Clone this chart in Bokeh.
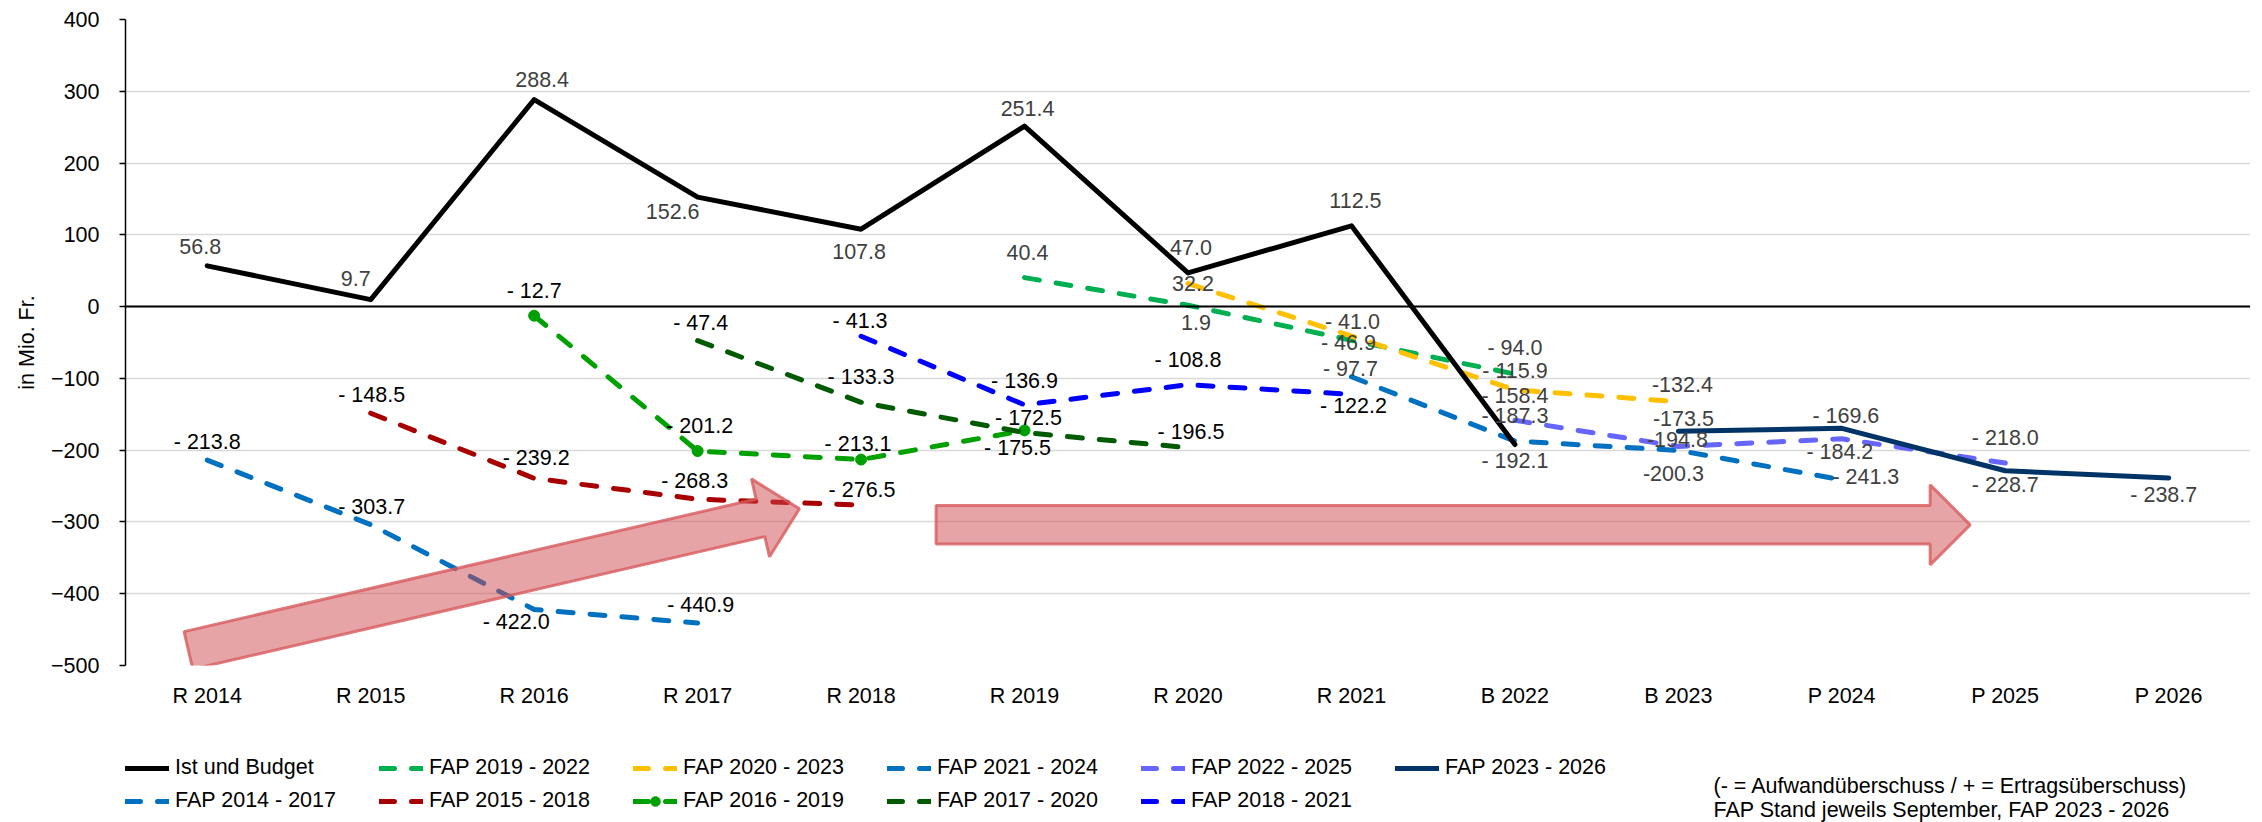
from math import hypot
from bokeh.plotting import figure
from bokeh.layouts import column
from bokeh.models import (FactorRange, Range1d, Span, Label, Legend, LegendItem,
                          FixedTicker, ColumnDataSource)
from bokeh.core.properties import value
from bokeh.embed import file_html
from bokeh.resources import INLINE

# ---------------- data ----------------
categories = ["R 2014", "R 2015", "R 2016", "R 2017", "R 2018", "R 2019", "R 2020",
              "R 2021", "B 2022", "B 2023", "P 2024", "P 2025", "P 2026"]

ist_budget = [56.8, 9.7, 288.4, 152.6, 107.8, 251.4, 47.0, 112.5, -192.1]   # from R 2014
fap_2014_2017 = [-213.8, -303.7, -422.0, -440.9]    # from R 2014
fap_2015_2018 = [-148.5, -239.2, -268.3, -276.5]    # from R 2015
fap_2016_2019 = [-12.7, -201.2, -213.1, -172.5]     # from R 2016
fap_2017_2020 = [-47.4, -133.3, -175.5, -196.5]     # from R 2017
fap_2018_2021 = [-41.3, -136.9, -108.8, -122.2]     # from R 2018
fap_2019_2022 = [40.4, 1.9, -46.9, -94.0]           # from R 2019
fap_2020_2023 = [32.2, -41.0, -115.9, -132.4]       # from R 2020
fap_2021_2024 = [-97.7, -187.3, -200.3, -241.3]     # from R 2021
fap_2022_2025 = [-158.4, -194.8, -184.2, -218.0]    # from B 2022
fap_2023_2026 = [-173.5, -169.6, -228.7, -238.7]    # from B 2023

series_names = ["Ist und Budget", "FAP 2014 - 2017", "FAP 2015 - 2018", "FAP 2016 - 2019",
                "FAP 2017 - 2020", "FAP 2018 - 2021", "FAP 2019 - 2022", "FAP 2020 - 2023",
                "FAP 2021 - 2024", "FAP 2022 - 2025", "FAP 2023 - 2026"]
series_values = [ist_budget, fap_2014_2017, fap_2015_2018, fap_2016_2019, fap_2017_2020,
                 fap_2018_2021, fap_2019_2022, fap_2020_2023, fap_2021_2024,
                 fap_2022_2025, fap_2023_2026]
series_start = ["R 2014", "R 2014", "R 2015", "R 2016", "R 2017", "R 2018", "R 2019",
                "R 2020", "R 2021", "B 2022", "B 2023"]

note_lines = ["(- = Aufwandüberschuss / + = Ertragsüberschuss)",
              "FAP Stand jeweils September, FAP 2023 - 2026"]

# ---------------- styles ----------------
series_colors = ["#000000", "#0070C0", "#A80000", "#00A000", "#005A00", "#0000FF",
                 "#00B050", "#FFC000", "#0070C0", "#6666FF", "#003366"]
series_dashed = [False, True, True, True, True, True, True, True, True, True, False]
series_label_color = ["#404040", "#000000", "#000000", "#000000", "#000000", "#000000",
                      "#404040", "#404040", "#404040", "#404040", "#404040"]
series_markers = [False, False, False, True, False, False, False, False, False, False, False]

# label offsets in screen px (dx, dy down)
label_offsets = [
    [(-7, -19), (-15, -21), (8, -20), (-25, 14), (-2, 22), (3, -18), (3, -25), (4, -25), (0, 17)],
    [(0, -18), (1, -18), (-18, 12), (3, -18)],
    [(1, -18), (2, -20), (-3, -18), (1, -15)],
    [(0, -25), (2, -25), (-3, -16), (4, -12)],
    [(3, -18), (0, -25), (-7, 15), (3, -16)],
    [(-1, -15), (0, -24), (0, -25), (2, 12)],
    [(3, -25), (8, 17), (-3, 3), (0, -26)],
    [(5, 0), (1, -14), (0, -19), (4, -17)],
    [(-1, -8), (0, -25), (-5, 23), (24, -3)],
    [(0, -24), (-1, -7), (-2, 13), (0, -25)],
    [(5, -13), (4, -12), (0, 14), (-5, 17)],
]

FONT = "Liberation Sans"
FS = "21.5px"
W = 2250
H1, H2 = 720, 102
ML, MR, MT, MB = 125, 0, 19, 55
Y0, Y1 = -500, 400
PX_X = (W - ML - MR) / len(categories)
PX_Y = (H1 - MT - MB) / (Y1 - Y0)
LW = 5
DASH = "15 17"

p = figure(width=W, height=H1,
           x_range=FactorRange(factors=categories, range_padding=0),
           y_range=Range1d(Y0, Y1),
           output_backend="svg", toolbar_location=None,
           min_border_left=ML, min_border_right=MR, min_border_top=MT, min_border_bottom=MB)
p.outline_line_color = None
p.xgrid.grid_line_color = None
p.ygrid.grid_line_color = "#D9D9D9"
p.ygrid.grid_line_width = 1.5

p.yaxis.ticker = FixedTicker(ticks=list(range(Y0, Y1 + 1, 100)))
p.yaxis.axis_line_color = "black"
p.yaxis.axis_line_width = 1.5
p.yaxis.major_tick_line_color = "black"
p.yaxis.major_tick_line_width = 1.5
p.yaxis.major_tick_out = 6
p.yaxis.major_tick_in = 0
p.yaxis.minor_tick_line_color = None
p.yaxis.major_label_standoff = 20
p.yaxis.major_label_text_font = FONT
p.yaxis.major_label_text_font_size = FS
p.yaxis.major_label_text_color = "black"
p.yaxis.axis_label = "in Mio. Fr."
p.yaxis.axis_label_text_font = FONT
p.yaxis.axis_label_text_font_size = FS
p.yaxis.axis_label_text_font_style = "normal"
p.yaxis.axis_label_text_color = "black"
p.yaxis.axis_label_standoff = 9

p.xaxis.axis_line_color = None
p.xaxis.major_tick_line_color = None
p.xaxis.minor_tick_line_color = None
p.xaxis.major_label_standoff = 12
p.xaxis.major_label_text_font = FONT
p.xaxis.major_label_text_font_size = FS
p.xaxis.major_label_text_color = "black"

# zero line (category axis crossing)
p.add_layout(Span(location=0, dimension="width", line_color="black", line_width=2))


def line_style(i):
    kw = dict(line_color=series_colors[i], line_width=LW, line_cap="round", line_join="round")
    if series_dashed[i]:
        kw["line_dash"] = DASH
    return kw


# ---------------- series ----------------
label_x, label_y, label_t, label_dx, label_dy, label_c = [], [], [], [], [], []
draw_order = [1, 2, 3, 4, 5, 6, 7, 8, 9, 10, 0]
for i in draw_order:
    vals = series_values[i]
    s = categories.index(series_start[i])
    cats = categories[s:s + len(vals)]
    p.line(x=cats, y=vals, **line_style(i))
    if series_markers[i]:
        p.scatter(x=cats, y=vals, marker="circle", size=11,
                  fill_color=series_colors[i], line_color=series_colors[i])
    for c, v, (dx, dy) in zip(cats, vals, label_offsets[i]):
        if v < 0:
            txt = ("-" if c == "B 2023" else "- ") + f"{abs(v):.1f}"
        else:
            txt = f"{v:.1f}"
        label_x.append(c); label_y.append(v); label_t.append(txt)
        label_dx.append(dx); label_dy.append(dy); label_c.append(series_label_color[i])


# ---------------- arrows (decoration) ----------------
def arrow_polygon(x0, y0, x1, y1, shaft, head_w, head_l):
    ax, ay = x0 * PX_X, y0 * PX_Y
    bx, by = x1 * PX_X, y1 * PX_Y
    dx, dy = bx - ax, by - ay
    L = hypot(dx, dy)
    ux, uy = dx / L, dy / L
    nx, ny = -uy, ux
    hx, hy = bx - ux * head_l, by - uy * head_l
    pts = [(ax + nx * shaft / 2, ay + ny * shaft / 2),
           (hx + nx * shaft / 2, hy + ny * shaft / 2),
           (hx + nx * head_w / 2, hy + ny * head_w / 2),
           (bx, by),
           (hx - nx * head_w / 2, hy - ny * head_w / 2),
           (hx - nx * shaft / 2, hy - ny * shaft / 2),
           (ax - nx * shaft / 2, ay - ny * shaft / 2)]
    return [q[0] / PX_X for q in pts], [q[1] / PX_Y for q in pts]


arrow_specs = [(0.385, -478.9, 4.123, -281.7), (4.959, -304.0, 11.285, -304.0)]
for (x0, y0, x1, y1) in arrow_specs:
    xs, ys = arrow_polygon(x0, y0, x1, y1, 38.5, 80, 40)
    p.patch(xs, ys, fill_color="#D04A4D", fill_alpha=0.5,
            line_color="#D85A5C", line_alpha=0.8, line_width=3)

src = ColumnDataSource(dict(x=label_x, y=label_y, t=label_t, dx=label_dx, dy=label_dy,
                            c=label_c))
p.text(x="x", y="y", text="t", x_offset="dx", y_offset="dy", text_color="c", source=src,
       text_align="center", text_baseline="middle", text_font=value(FONT),
       text_font_size=value(FS))

# ---------------- legend + notes panel ----------------
p2 = figure(width=W, height=H2, x_range=Range1d(0, W), y_range=Range1d(0, H2),
            x_axis_type=None, y_axis_type=None, output_backend="svg",
            toolbar_location=None, min_border_left=ML, min_border_right=MR,
            min_border_top=0, min_border_bottom=0)
p2.outline_line_color = None
p2.xgrid.visible = False
p2.ygrid.visible = False

nan = float("nan")
proxies = {}
for i, n in enumerate(series_names):
    rs = [p2.line(x=[nan, nan], y=[nan, nan], **line_style(i))]
    if series_markers[i]:
        rs.append(p2.scatter(x=[nan], y=[nan], marker="circle", size=11,
                             fill_color=series_colors[i], line_color=series_colors[i]))
    proxies[n] = rs

legend_order = ["Ist und Budget", "FAP 2019 - 2022", "FAP 2020 - 2023", "FAP 2021 - 2024",
                "FAP 2022 - 2025", "FAP 2023 - 2026", "FAP 2014 - 2017", "FAP 2015 - 2018",
                "FAP 2016 - 2019", "FAP 2017 - 2020", "FAP 2018 - 2021"]
legend = Legend(items=[LegendItem(label=n, renderers=proxies[n]) for n in legend_order],
                location=(0, 9), orientation="horizontal", ncols=6,
                border_line_color=None, background_fill_alpha=0, padding=0, margin=0,
                glyph_width=44, glyph_height=24, label_height=24, label_width=196,
                label_standoff=6, spacing=8,
                label_text_font=FONT, label_text_font_size=FS, label_text_color="black")
p2.add_layout(legend)

for k, line in enumerate(note_lines):
    p2.add_layout(Label(x=1588, y=37 - 24 * k, x_units="screen", y_units="screen",
                        text=line, text_baseline="middle", text_align="left",
                        text_font=FONT, text_font_size=FS, text_color="black"))

open("out.html", "w").write(file_html(column(p, p2), INLINE))
